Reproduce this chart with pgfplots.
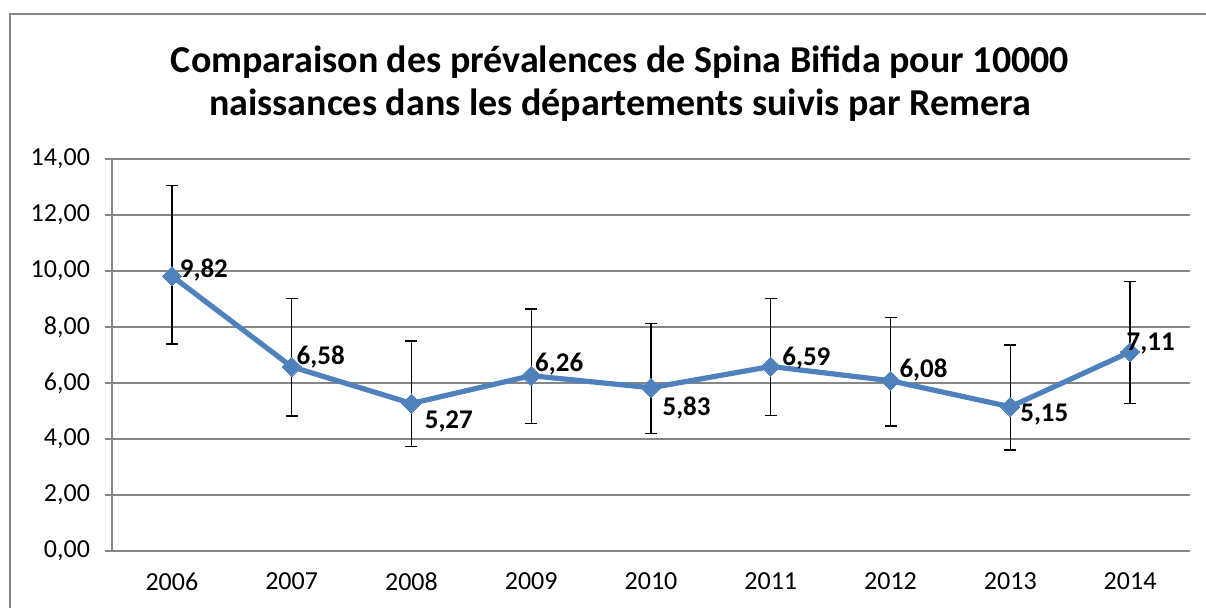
\documentclass[border=0pt]{standalone}
\usepackage{pgfplots}
\pgfplotsset{compat=1.18}
\usepackage{pgfplotstable}
\usepackage{fontspec}
\setmainfont{Carlito}
\definecolor{xlblue}{HTML}{4F81BD}
\definecolor{xlgray}{HTML}{868686}
\pgfplotstableread{
x y ep em dx dy
0 9.82 3.24 2.43 4.0 3.0
1 6.58 2.44 1.76 2.5 5.0
2 5.27 2.23 1.54 6.7 -9.0
3 6.26 2.38 1.70 2.0 5.7
4 5.83 2.30 1.63 5.8 -10.2
5 6.59 2.43 1.76 5.8 4.0
6 6.08 2.25 1.62 4.5 5.4
7 5.15 2.21 1.54 5.0 -4.0
8 7.11 2.51 1.84 -1.7 4.3
}\data
\begin{document}
\begin{tikzpicture}
\useasboundingbox (-56pt,-28.5pt) rectangle (547pt,275.5pt);
\begin{axis}[
  scale only axis, width=539pt, height=196pt,
  xmin=-0.5, xmax=8.5, ymin=0, ymax=14,
  axis lines*=left,
  axis line style={xlgray, line width=0.8pt},
  xtick={0,...,8},
  xticklabels={2006,2007,2008,2009,2010,2011,2012,2013,2014},
  x tick style={draw=none},
  extra x ticks={-0.5,0.5,...,8.5},
  extra x tick labels={},
  extra x tick style={tick style={draw=xlgray, line width=0.8pt}, major tick length=3.5pt, tick align=outside},
  ytick={0,2,...,14},
  y tick style={xlgray, line width=0.8pt},
  major tick length=3.5pt, tick align=outside,
  ymajorgrids, grid style={xlgray, line width=0.8pt},
  xtick pos=bottom, ytick pos=left,
  /pgf/number format/.cd, fixed, fixed zerofill, precision=2, use comma, assume math mode=true,
  /pgfplots/.cd,
  tick label style={font=\fontsize{13}{15}\selectfont, text=black},
  yticklabel style={xshift=-4pt},
  xticklabel style={yshift=-4pt},
  clip=false,
]
\addplot[only marks, mark=none, black,
  error bars/.cd, y dir=both, y explicit,
  error bar style={black, line width=0.7pt},
  error mark options={rotate=90, black, mark size=3pt, line width=0.7pt}]
  table[x=x, y=y, y error plus=ep, y error minus=em] {\data};
\addplot[xlblue, line width=2.6pt, mark=square*, mark size=3.4pt,
  mark options={rotate=45, xlblue, line width=0pt},
  visualization depends on={\thisrow{dx}\as\dx},
  visualization depends on={\thisrow{dy}\as\dy},
  nodes near coords,
  nodes near coords style={font=\fontsize{13.5}{15}\selectfont\bfseries, text=black, anchor=west, inner sep=0pt, xshift=\dx pt, yshift=\dy pt}]
  table[x=x, y=y] {\data};
\end{axis}
\draw[xlgray, line width=1.2pt] (-51pt,-28.5pt) -- (-51pt,268.5pt) -- (548pt,268.5pt);
\node[font=\fontsize{19}{21.5}\selectfont\bfseries, align=center] at (254pt,233.75pt)
  {Comparaison des prévalences de Spina Bifida pour 10000\\naissances dans les départements suivis par Remera};
\end{tikzpicture}
\end{document}
